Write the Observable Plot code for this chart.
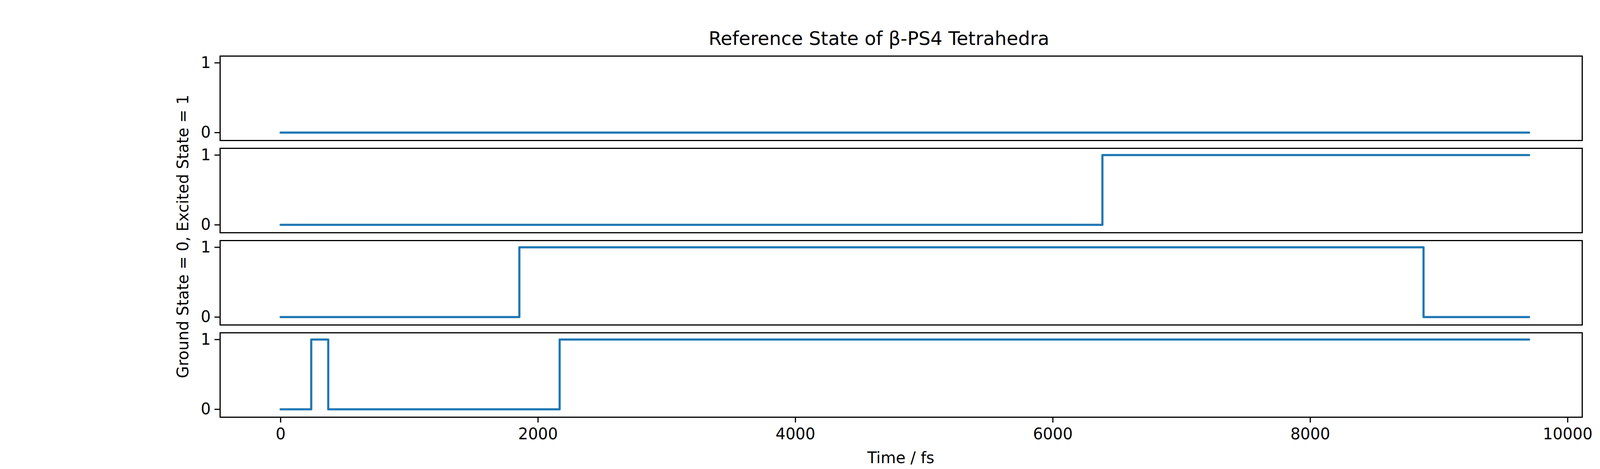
<!DOCTYPE html>
<html><head><meta charset="utf-8">
<script src="https://cdn.jsdelivr.net/npm/d3@7"></script>
<script src="https://cdn.jsdelivr.net/npm/@observablehq/plot@0.6"></script>
<style>
html,body{margin:0;padding:0;background:#fff;font-family:"DejaVu Sans",sans-serif;width:4500px;min-width:4500px;height:1200px;overflow:hidden;}
#wrap{position:relative;width:4500px;height:1200px;}
#title{position:absolute;top:70px;left:0;width:4500px;text-align:center;font-size:48px;}
#plot{position:absolute;top:130px;left:0;width:4500px;}
#plot svg{max-width:none !important;}
#ylab{position:absolute;left:468px;top:605px;transform:translate(-50%,-50%) rotate(-90deg);font-size:40px;white-space:nowrap;}
#xlab{position:absolute;left:2306px;top:1171px;transform:translate(-50%,-50%);font-size:40px;}
#edge{position:absolute;left:4499px;top:1199px;width:1px;height:1px;background:#fff;}
</style></head>
<body><div id="wrap">
<div id="title">Reference State of β-PS4 Tetrahedra</div>
<div id="plot"></div>
<div id="ylab">Ground State = 0, Excited State = 1</div>
<div id="xlab">Time / fs</div>
<div id="edge"></div>
</div>
<script>
const panels = ["p1","p2","p3","p4"];
const times1 = [0, 9700];
const states1 = [0, 0];
const times2 = [0, 6385, 9700];
const states2 = [0, 1, 1];
const times3 = [0, 1855, 8880, 9700];
const states3 = [0, 1, 0, 0];
const times4 = [0, 238, 370, 2168, 9700];
const states4 = [0, 1, 0, 1, 1];
const xTicks = [0, 2000, 4000, 6000, 8000, 10000];
const yTicks = [0, 1];

const series = [[times1,states1],[times2,states2],[times3,states3],[times4,states4]];
const data = series.flatMap(([t,s],i)=>t.map((v,j)=>({panel:panels[i], t:v, s:s[j]})));

const chart = Plot.plot({
  width: 4500, height: 1070,
  marginLeft: 563, marginRight: 450, marginTop: 13, marginBottom: 133,
  style:{fontFamily:"DejaVu Sans", fontSize:"40px", color:"#000", background:"#fff"},
  fy:{domain:panels, axis:null, paddingInner:0.085, paddingOuter:0},
  x:{domain:[-470,10113], label:null},
  y:{domain:[-0.113,1.097], label:null},
  marks:[
    Plot.frame({stroke:"#000", strokeWidth:3}),
    Plot.line(data,{x:"t", y:"s", fy:"panel", curve:"step-after", stroke:"#1f77b4", strokeWidth:5.5}),
    Plot.axisY({ticks:yTicks, tickSize:14, tickPadding:10, strokeWidth:3, tickFormat:d=>String(d), label:null}),
    Plot.axisX({ticks:xTicks, tickSize:14, tickPadding:14, strokeWidth:3, tickFormat:d=>String(d), label:null})
  ]
});
document.getElementById("plot").appendChild(chart);
</script>
</body></html>
